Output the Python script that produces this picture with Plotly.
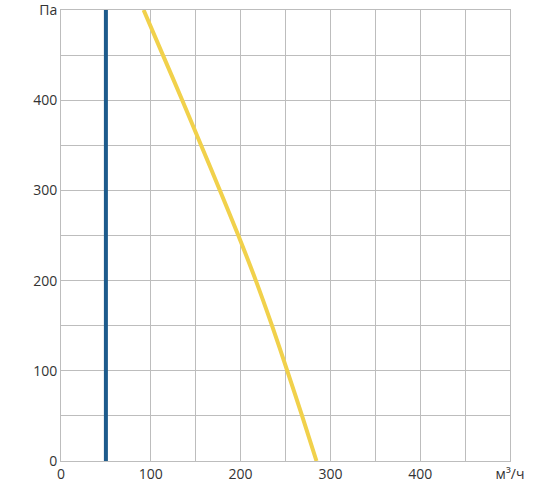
import plotly.graph_objects as go

# характеристика вентилятора (м³/ч, Па)
fan_flow = [92, 113.5, 135, 156, 177, 197.5, 217, 235, 252, 268.5, 284.5]
fan_pressure = [500, 450, 400, 350, 300, 250, 200, 150, 100, 50, 0]

# рабочий расход
limit_flow = [50, 50]
limit_pressure = [0, 500]

x_ticks = list(range(0, 501, 50))
x_labels = ['0', '', '100', '', '200', '', '300', '', '400', '', 'м³/ч']
y_ticks = list(range(0, 501, 50))
y_labels = ['0', '', '100', '', '200', '', '300', '', '400', '', 'Па']

grid = '#bdbdbd'

fig = go.Figure()
fig.add_trace(go.Scatter(
    x=limit_flow, y=limit_pressure, mode='lines',
    line=dict(color='#1d5b8c', width=4),
    hoverinfo='skip',
))
fig.add_trace(go.Scatter(
    x=fan_flow, y=fan_pressure, mode='lines',
    line=dict(color='#f1d14b', width=4, shape='spline', smoothing=0.8),
))

fig.update_layout(
    width=554,
    height=504,
    showlegend=False,
    plot_bgcolor='white',
    paper_bgcolor='white',
    margin=dict(l=61, r=44, t=10, b=43),
    font=dict(family='Open Sans, sans-serif', size=14, color='#333'),
    xaxis=dict(
        range=[0, 500.01], tickvals=x_ticks, ticktext=x_labels,
        showgrid=True, gridcolor=grid, gridwidth=1, zeroline=False,
        showline=True, mirror=True, linecolor=grid, linewidth=1,
        ticks='', ticklen=0, automargin=False, ticklabeloverflow='allow',
    ),
    yaxis=dict(
        range=[0, 500.01], tickvals=y_ticks, ticktext=y_labels,
        showgrid=True, gridcolor=grid, gridwidth=1, zeroline=False,
        showline=True, mirror=True, linecolor=grid, linewidth=1,
        ticks='', ticklen=0, automargin=False, ticklabeloverflow='allow',
    ),
)

fig.write_html('out.html', config={'displayModeBar': False},
               post_script="document.body.style.margin='0';")
